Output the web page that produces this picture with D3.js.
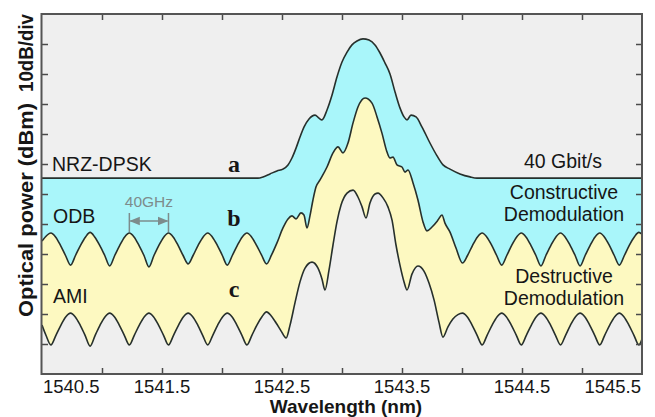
<!DOCTYPE html>
<html lang="en">
<head>
<meta charset="UTF-8">
<title>NRZ-DPSK, ODB and AMI optical spectra</title>
<script src="https://d3js.org/d3.v7.min.js"></script>
<style>
  body { margin: 0; background: #fff; }
  svg { display: block; }
  .sans { font-family: "Liberation Sans", Arial, sans-serif; fill: #161616; }
  .serif { font-family: "Liberation Serif", "Times New Roman", serif; font-weight: bold; fill: #161616; }
</style>
</head>
<body>
<div id="chart"></div>
<script>
const width = 655, height = 417;

// axis ticks (wavelength in nm, power in dBm, 10 dB/div)
const xTicks = [1541, 1541.5, 1542, 1542.5, 1543, 1543.5, 1544, 1544.5, 1545];
const xLabels = [1540.5, 1541.5, 1542.5, 1543.5, 1544.5, 1545.5];
const yTicks = [-110, -100, -90, -80, -70, -60, -50, -40, -30, -20, -10];

// a: NRZ-DPSK, constructive port  [wavelength nm, power dBm]
const nrzDpsk = [
  [1540.500,-54.7],[1542.300,-54.7],[1542.342,-54.3],[1542.400,-53.3],[1542.458,-52.3],
  [1542.508,-51.7],[1542.550,-50.3],[1542.583,-48.0],[1542.617,-44.7],[1542.650,-41.0],
  [1542.683,-37.7],[1542.725,-35.0],[1542.775,-33.7],[1542.808,-34.7],[1542.833,-35.3],
  [1542.875,-32.0],[1542.917,-27.0],[1542.958,-21.0],[1543.000,-16.0],[1543.042,-12.7],
  [1543.083,-10.3],[1543.125,-9.0],[1543.175,-8.3],[1543.225,-8.7],[1543.275,-10.3],
  [1543.317,-13.0],[1543.358,-16.3],[1543.400,-20.0],[1543.442,-26.0],[1543.483,-31.3],
  [1543.517,-34.3],[1543.542,-35.3],[1543.575,-33.7],[1543.617,-34.3],[1543.667,-37.7],
  [1543.733,-43.0],[1543.792,-47.3],[1543.842,-50.3],[1543.900,-51.7],[1543.983,-53.3],
  [1544.067,-54.3],[1544.125,-54.7],[1545.500,-54.7]
];

// b: ODB
const odb = [
  [1540.500,-75.7],[1540.574,-73.0],[1540.613,-74.3],[1540.654,-77.1],[1540.696,-80.5],
  [1540.738,-83.7],[1540.779,-80.5],[1540.821,-77.1],[1540.863,-74.3],[1540.901,-72.8],
  [1540.939,-74.3],[1540.981,-77.1],[1541.023,-80.5],[1541.064,-84.0],[1541.106,-80.5],
  [1541.148,-77.1],[1541.189,-74.3],[1541.228,-73.0],[1541.267,-74.3],[1541.308,-77.1],
  [1541.350,-80.5],[1541.391,-84.3],[1541.433,-80.5],[1541.474,-77.1],[1541.516,-74.3],
  [1541.554,-73.0],[1541.593,-74.3],[1541.634,-77.1],[1541.676,-80.5],[1541.718,-83.3],
  [1541.759,-80.5],[1541.801,-77.1],[1541.843,-74.3],[1541.881,-73.0],[1541.919,-74.3],
  [1541.961,-77.1],[1542.003,-80.5],[1542.044,-83.7],[1542.086,-80.5],[1542.128,-77.1],
  [1542.169,-74.3],[1542.208,-73.0],[1542.246,-74.3],[1542.288,-77.1],[1542.329,-80.3],
  [1542.371,-83.3],[1542.413,-80.3],[1542.458,-76.3],[1542.508,-71.3],[1542.550,-68.3],
  [1542.583,-67.3],[1542.617,-68.3],[1542.658,-66.3],[1542.683,-67.0],[1542.708,-71.3],
  [1542.733,-67.3],[1542.758,-62.0],[1542.783,-57.7],[1542.817,-55.3],[1542.875,-51.0],
  [1542.925,-46.3],[1542.967,-44.3],[1543.008,-46.3],[1543.050,-43.0],[1543.092,-36.3],
  [1543.133,-31.0],[1543.192,-28.0],[1543.250,-29.7],[1543.292,-34.3],[1543.333,-39.7],
  [1543.375,-46.0],[1543.400,-48.0],[1543.425,-47.7],[1543.458,-50.3],[1543.500,-51.0],
  [1543.525,-52.7],[1543.550,-52.0],[1543.592,-56.3],[1543.633,-62.0],[1543.675,-69.3],
  [1543.708,-72.3],[1543.750,-71.0],[1543.800,-68.7],[1543.833,-67.0],[1543.858,-69.7],
  [1543.900,-72.7],[1543.950,-78.0],[1544.004,-83.0],[1544.046,-80.5],[1544.088,-77.1],
  [1544.129,-74.3],[1544.168,-73.0],[1544.206,-74.3],[1544.248,-77.1],[1544.289,-80.5],
  [1544.331,-83.7],[1544.373,-80.5],[1544.414,-77.1],[1544.456,-74.3],[1544.494,-73.0],
  [1544.533,-74.3],[1544.574,-77.1],[1544.616,-80.5],[1544.658,-84.0],[1544.699,-80.5],
  [1544.741,-77.1],[1544.783,-74.3],[1544.821,-73.0],[1544.859,-74.3],[1544.901,-77.1],
  [1544.943,-80.5],[1544.984,-84.0],[1545.026,-80.5],[1545.068,-77.1],[1545.109,-74.3],
  [1545.148,-73.0],[1545.186,-74.3],[1545.228,-77.1],[1545.269,-80.5],[1545.311,-83.7],
  [1545.353,-80.5],[1545.394,-77.1],[1545.436,-74.3],[1545.474,-72.8],[1545.500,-73.4]
];

// c: AMI
const ami = [
  [1540.500,-103.7],[1540.533,-107.1],[1540.574,-110.3],[1540.616,-107.1],[1540.658,-103.7],
  [1540.699,-100.9],[1540.738,-99.7],[1540.776,-100.9],[1540.818,-103.7],[1540.859,-107.1],
  [1540.901,-110.7],[1540.943,-107.1],[1540.984,-103.7],[1541.026,-100.9],[1541.064,-99.7],
  [1541.103,-100.9],[1541.144,-103.7],[1541.186,-107.1],[1541.228,-110.3],[1541.269,-107.1],
  [1541.311,-103.7],[1541.353,-100.9],[1541.391,-99.7],[1541.429,-100.9],[1541.471,-103.7],
  [1541.513,-107.1],[1541.554,-110.3],[1541.596,-107.1],[1541.638,-103.7],[1541.679,-100.9],
  [1541.718,-99.7],[1541.756,-100.9],[1541.798,-103.7],[1541.839,-107.1],[1541.881,-110.3],
  [1541.923,-107.1],[1541.964,-103.7],[1542.006,-100.9],[1542.044,-99.7],[1542.083,-100.9],
  [1542.124,-103.7],[1542.166,-107.1],[1542.208,-110.3],[1542.249,-107.1],[1542.291,-103.7],
  [1542.333,-100.9],[1542.371,-99.3],[1542.409,-100.6],[1542.451,-103.0],[1542.493,-105.7],
  [1542.534,-108.0],[1542.567,-103.7],[1542.608,-96.3],[1542.650,-89.3],[1542.692,-84.7],
  [1542.750,-82.7],[1542.800,-84.7],[1542.833,-88.3],[1542.858,-92.0],[1542.892,-85.3],
  [1542.925,-77.0],[1542.958,-69.3],[1542.992,-63.7],[1543.042,-59.7],[1543.092,-58.7],
  [1543.133,-61.0],[1543.167,-64.3],[1543.200,-68.0],[1543.233,-63.0],[1543.275,-60.0],
  [1543.300,-59.7],[1543.342,-61.3],[1543.383,-64.3],[1543.417,-68.7],[1543.450,-77.0],
  [1543.483,-83.7],[1543.517,-89.3],[1543.542,-92.0],[1543.583,-86.7],[1543.633,-84.0],
  [1543.683,-85.7],[1543.725,-89.7],[1543.767,-95.3],[1543.808,-102.7],[1543.841,-107.7],
  [1543.883,-104.3],[1543.924,-101.7],[1543.966,-100.2],[1544.004,-99.7],[1544.043,-100.9],
  [1544.084,-103.7],[1544.126,-107.1],[1544.168,-110.3],[1544.209,-107.1],[1544.251,-103.7],
  [1544.293,-100.9],[1544.331,-99.7],[1544.369,-100.9],[1544.411,-103.7],[1544.453,-107.1],
  [1544.494,-110.3],[1544.536,-107.1],[1544.578,-103.7],[1544.619,-100.9],[1544.658,-99.7],
  [1544.696,-100.9],[1544.738,-103.7],[1544.779,-107.1],[1544.821,-110.3],[1544.863,-107.1],
  [1544.904,-103.7],[1544.946,-100.9],[1544.984,-99.7],[1545.023,-100.9],[1545.064,-103.7],
  [1545.106,-107.1],[1545.148,-110.3],[1545.189,-107.1],[1545.231,-103.7],[1545.273,-100.9],
  [1545.311,-99.7],[1545.349,-100.9],[1545.391,-103.7],[1545.433,-107.1],[1545.474,-110.3],
  [1545.500,-108.3]
];

const x = d3.scaleLinear().domain([1540.5, 1545.5]).range([42, 642]);
const y = d3.scaleLinear().domain([-120, 0]).range([374, 14]);

const svg = d3.select("#chart").append("svg")
    .attr("width", width)
    .attr("height", height);

svg.append("clipPath").attr("id", "plot")
  .append("rect")
    .attr("x", x.range()[0]).attr("y", y.range()[1])
    .attr("width", x.range()[1] - x.range()[0])
    .attr("height", y.range()[0] - y.range()[1]);

const plot = svg.append("g").attr("clip-path", "url(#plot)");

plot.append("rect")
    .attr("x", x.range()[0]).attr("y", y.range()[1])
    .attr("width", x.range()[1] - x.range()[0])
    .attr("height", y.range()[0] - y.range()[1])
    .attr("fill", "#efefef");

const area = d3.area()
    .x(d => x(d[0]))
    .y0(y.range()[0])
    .y1(d => y(d[1]))
    .curve(d3.curveMonotoneX);

const line = d3.line()
    .x(d => x(d[0]))
    .y(d => y(d[1]))
    .curve(d3.curveMonotoneX);

const series = [
  {data: nrzDpsk, fill: "#a9f6fa"},
  {data: odb, fill: "#fdf9c1"},
  {data: ami, fill: "#efefef"}
];

series.forEach(s => {
  plot.append("path").attr("d", area(s.data)).attr("fill", s.fill);
});
series.forEach(s => {
  plot.append("path").attr("d", line(s.data))
      .attr("fill", "none")
      .attr("stroke", "#27302c")
      .attr("stroke-width", 1.6)
      .attr("stroke-linejoin", "round");
});

// inward ticks on all four sides
function styleAxis(g) {
  g.select(".domain").remove();
  g.selectAll(".tick line").attr("stroke", "#4a4a4a").attr("stroke-width", 1.5);
}
svg.append("g").attr("transform", `translate(0,${y.range()[0]})`)
    .call(d3.axisBottom(x).tickValues(xTicks).tickSize(-6).tickFormat(""))
    .call(styleAxis);
svg.append("g").attr("transform", `translate(0,${y.range()[1]})`)
    .call(d3.axisTop(x).tickValues(xTicks).tickSize(-6).tickFormat(""))
    .call(styleAxis);
svg.append("g").attr("transform", `translate(${x.range()[0]},0)`)
    .call(d3.axisLeft(y).tickValues(yTicks).tickSize(-6).tickFormat(""))
    .call(styleAxis);
svg.append("g").attr("transform", `translate(${x.range()[1]},0)`)
    .call(d3.axisRight(y).tickValues(yTicks).tickSize(-6).tickFormat(""))
    .call(styleAxis);

// frame
svg.append("rect")
    .attr("x", x.range()[0] - 0.5).attr("y", y.range()[1])
    .attr("width", x.range()[1] - x.range()[0] + 0.5)
    .attr("height", y.range()[0] - y.range()[1])
    .attr("fill", "none")
    .attr("stroke", "#555")
    .attr("stroke-width", 2);

// x tick labels
svg.selectAll(".xlab")
  .data(xLabels)
  .join("text")
    .attr("class", "sans")
    .attr("x", (d, i) => i === 0 ? x(d) + 1 : i === xLabels.length - 1 ? x(d) - 1 : x(d))
    .attr("y", 393)
    .attr("text-anchor", (d, i) => i === 0 ? "start" : i === xLabels.length - 1 ? "end" : "middle")
    .style("font-size", "18.5px")
    .text(d => d.toFixed(1));

svg.append("text")
    .attr("class", "sans")
    .attr("x", 346).attr("y", 413)
    .attr("text-anchor", "middle")
    .style("font-size", "19px").style("font-weight", "bold")
    .text("Wavelength (nm)");

svg.append("text")
    .attr("class", "sans")
    .attr("transform", "translate(33,317) rotate(-90)")
    .attr("textLength", 214).attr("lengthAdjust", "spacingAndGlyphs")
    .style("font-size", "20.5px").style("font-weight", "bold")
    .text("Optical power (dBm)");
svg.append("text")
    .attr("class", "sans")
    .attr("transform", "translate(33,92) rotate(-90)")
    .attr("textLength", 78).attr("lengthAdjust", "spacingAndGlyphs")
    .style("font-size", "19.5px").style("font-weight", "bold")
    .text("10dB/div");

// annotations
const notes = [
  {t: "NRZ-DPSK", x: 52, y: 171, a: "start"},
  {t: "ODB", x: 53, y: 223, a: "start"},
  {t: "AMI", x: 53, y: 303, a: "start"},
  {t: "40 Gbit/s", x: 602, y: 168, a: "end"},
  {t: "Constructive", x: 564, y: 199, a: "middle"},
  {t: "Demodulation", x: 564, y: 221, a: "middle"},
  {t: "Destructive", x: 564, y: 283, a: "middle"},
  {t: "Demodulation", x: 564, y: 305, a: "middle"}
];
svg.selectAll(".note")
  .data(notes)
  .join("text")
    .attr("class", "sans")
    .attr("x", d => d.x).attr("y", d => d.y)
    .attr("text-anchor", d => d.a)
    .style("font-size", "19.5px")
    .text(d => d.t);

[["a", 172], ["b", 226], ["c", 297]].forEach(([t, yy]) => {
  svg.append("text")
      .attr("class", "serif")
      .attr("x", 234).attr("y", yy)
      .attr("text-anchor", "middle")
      .style("font-size", "24px")
      .text(t);
});

// 40 GHz spacing marker between two ODB peaks
const m0 = x(1541.228), m1 = x(1541.554), my = 221;
const grey = "#7d8c8c";
svg.append("defs").selectAll("marker")
  .data(["head"])
  .join("marker")
    .attr("id", "head")
    .attr("viewBox", "0 0 10 10")
    .attr("refX", 9).attr("refY", 5)
    .attr("markerWidth", 7).attr("markerHeight", 7)
    .attr("orient", "auto-start-reverse")
  .append("path")
    .attr("d", "M0,1L10,5L0,9z")
    .attr("fill", grey);
svg.append("line")
    .attr("x1", m0 + 1).attr("x2", m1 - 1).attr("y1", my).attr("y2", my)
    .attr("stroke", grey).attr("stroke-width", 1.5)
    .attr("marker-start", "url(#head)").attr("marker-end", "url(#head)");
[m0, m1].forEach(mx => {
  svg.append("line")
      .attr("x1", mx).attr("x2", mx).attr("y1", 213).attr("y2", 232)
      .attr("stroke", grey).attr("stroke-width", 1.5);
});
svg.append("text")
    .attr("class", "sans")
    .attr("x", (m0 + m1) / 2).attr("y", 207)
    .attr("text-anchor", "middle")
    .style("font-size", "15.5px")
    .style("fill", grey)
    .text("40GHz");
</script>
</body>
</html>
